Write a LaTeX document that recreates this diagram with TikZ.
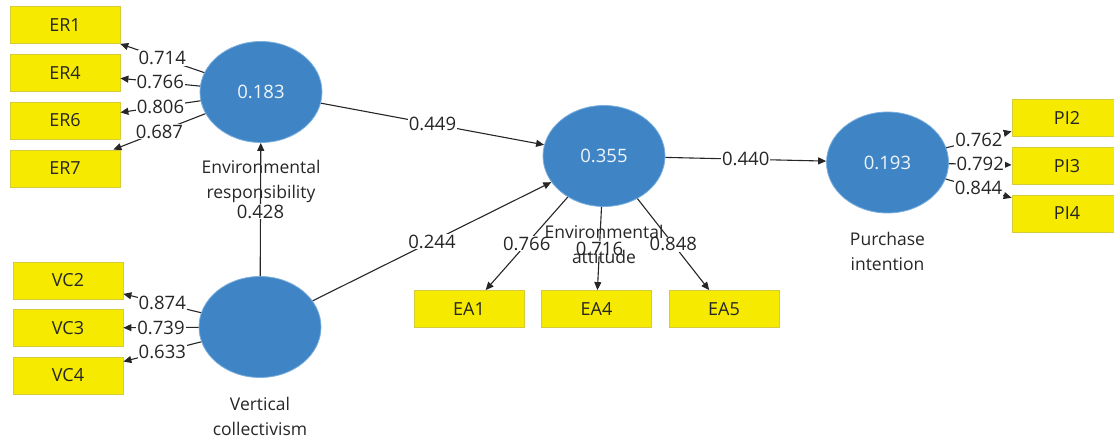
\documentclass[tikz,border=0pt]{standalone}
\usepackage{fontspec}
\setmainfont{Open Sans}
\usetikzlibrary{shapes.geometric,arrows.meta,calc}
\definecolor{latblue}{HTML}{3F85C6}
\definecolor{latedge}{HTML}{7AAEDD}
\definecolor{indyel}{HTML}{F5EA00}
\definecolor{indedge}{HTML}{D6CC3A}
\definecolor{txt}{HTML}{262626}
\tikzset{
  latent/.style={ellipse, fill=latblue, draw=latedge, line width=0.8pt, minimum width=122pt, minimum height=101pt, inner sep=0pt, text=white!92!latblue, font=\fontsize{18.5}{22}\selectfont},
  indbox/.style={rectangle, fill=indyel, draw=indedge, line width=0.8pt, minimum width=110pt, minimum height=37pt, inner sep=0pt, text=txt, font=\fontsize{18}{22}\selectfont},
  conn/.style={draw=black!85, line width=1.1pt, -{Triangle[length=8pt,width=7pt]}},
  wlab/.style={midway, fill=white, inner sep=1pt, text=txt, font=\fontsize{18.5}{22}\selectfont},
  cname/.style={align=center, text=txt, font=\fontsize{17.5}{25}\selectfont, inner sep=0pt}
}
\begin{document}
\begin{tikzpicture}[x=1pt,y=-1pt]
\useasboundingbox (0,0) rectangle (1114,443);
% latent variables
\node[latent] (er) at (261,92) {0.183};
\node[latent] (vc) at (260,327) {};
\node[latent] (ea) at (604,156) {0.355};
\node[latent] (pi) at (887.5,162.5) {0.193};
% indicators
\node[indbox] (er1) at (65,25) {ER1};
\node[indbox] (er4) at (65,73) {ER4};
\node[indbox] (er6) at (65,120.5) {ER6};
\node[indbox] (er7) at (65,168.5) {ER7};
\node[indbox] (vc2) at (68,280.5) {VC2};
\node[indbox] (vc3) at (68,328) {VC3};
\node[indbox] (vc4) at (68,375.5) {VC4};
\node[indbox] (ea1) at (469,309) {EA1};
\node[indbox] (ea4) at (596.5,309) {EA4};
\node[indbox] (ea5) at (724,309) {EA5};
\node[indbox] (pi2) at (1067,117.5) {PI2};
\node[indbox] (pi3) at (1067,166) {PI3};
\node[indbox] (pi4) at (1067,213.5) {PI4};
% outer loadings
\draw[conn] (er) -- (er1) node[wlab] {0.714};
\draw[conn] (er) -- (er4) node[wlab] {0.766};
\draw[conn] (er) -- (er6) node[wlab] {0.806};
\draw[conn] (er) -- (er7) node[wlab] {0.687};
\draw[conn] (vc) -- (vc2) node[wlab] {0.874};
\draw[conn] (vc) -- (vc3) node[wlab] {0.739};
\draw[conn] (vc) -- (vc4) node[wlab] {0.633};
\draw[conn] (ea) -- (ea1) node[wlab] {0.766};
\draw[conn] (ea) -- (ea4) node[wlab] {0.716};
\draw[conn] (ea) -- (ea5) node[wlab] {0.848};
\draw[conn] (pi) -- (pi2) node[wlab] {0.762};
\draw[conn] (pi) -- (pi3) node[wlab] {0.792};
\draw[conn] (pi) -- (pi4) node[wlab] {0.844};
% structural paths
\draw[conn] (vc) -- (er) node[wlab, yshift=-2pt] {0.428};
\draw[conn] (er) -- (ea) node[wlab] {0.449};
\draw[conn] (vc) -- (ea) node[wlab] {0.244};
\draw[conn] (ea) -- (pi) node[wlab] {0.440};
% construct names
\node[cname] (ername) at ($(er.south)+(0,38.5)$) {Environmental\\responsibility};
\node[cname] (vcname) at ($(vc.south)+(0,39)$) {Vertical\\collectivism};
\node[cname] (eaname) at ($(ea.south)+(0,38)$) {Environmental\\attitude};
\node[cname] (piname) at ($(pi.south)+(0,38)$) {Purchase\\intention};
\end{tikzpicture}
\end{document}
